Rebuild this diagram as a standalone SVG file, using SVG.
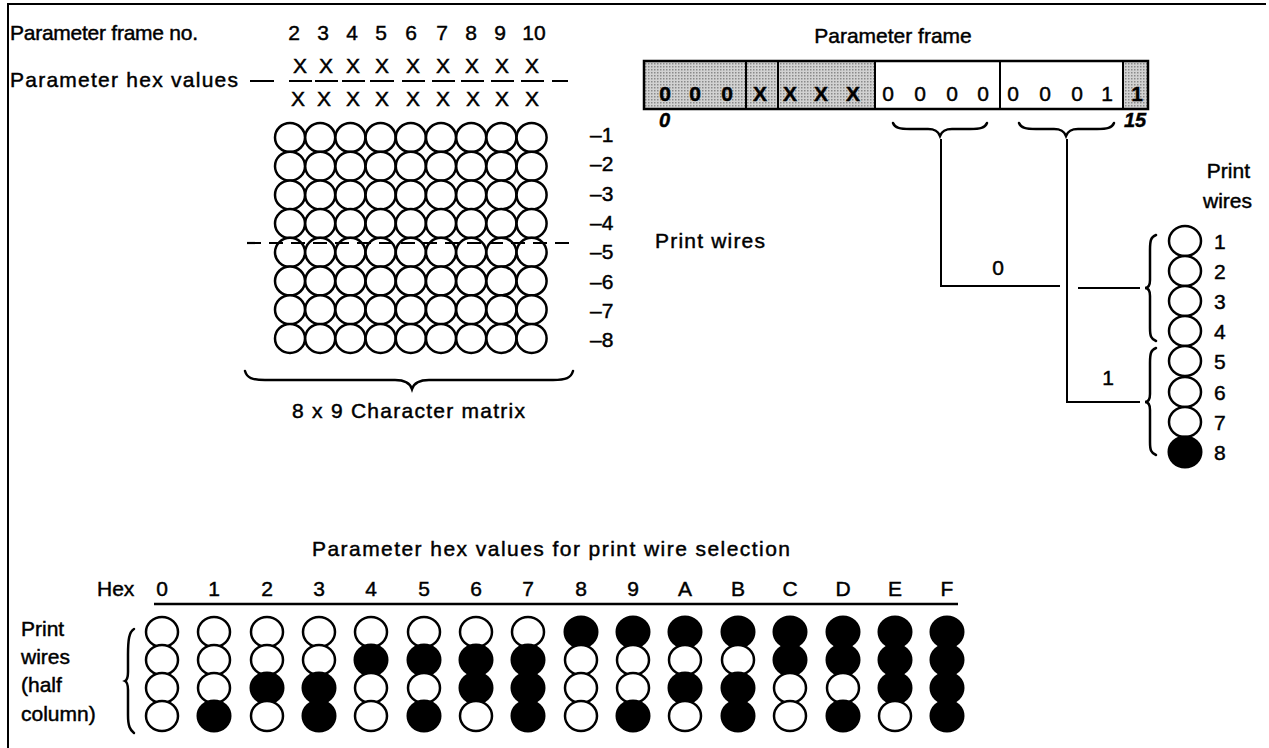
<svg xmlns="http://www.w3.org/2000/svg" width="1269" height="748" viewBox="0 0 1269 748">
<defs>
<pattern id="dots" width="3" height="3" patternUnits="userSpaceOnUse">
<rect width="3" height="3" fill="#d2d2d2"/>
<rect width="1.5" height="1.5" fill="#8a8a8a"/>
</pattern>
<ellipse id="mc" rx="15" ry="14.5" fill="#fff" stroke="#000" stroke-width="2.5"/>
<ellipse id="oc" rx="16" ry="15" fill="#fff" stroke="#000" stroke-width="2.5"/>
<ellipse id="fc" rx="16.5" ry="15.5" fill="#000" stroke="#000" stroke-width="2"/>
<g id="mrow">
<use href="#mc" x="290" y="0"/><use href="#mc" x="320.2" y="0"/><use href="#mc" x="350.4" y="0"/><use href="#mc" x="380.6" y="0"/><use href="#mc" x="410.8" y="0"/><use href="#mc" x="441" y="0"/><use href="#mc" x="471.2" y="0"/><use href="#mc" x="501.4" y="0"/><use href="#mc" x="531.6" y="0"/>
</g>
</defs>
<style>
text{font-family:"Liberation Sans",Arial,Helvetica,sans-serif;font-size:21px;fill:#000;stroke:#000;stroke-width:0.45}
.m{text-anchor:middle}
.e{text-anchor:end}
.b{font-weight:bold}
.it{font-style:italic;font-weight:bold;font-size:20px}
.ln{fill:none;stroke:#000;stroke-width:2}
.br{fill:none;stroke:#000;stroke-width:2.5;stroke-linecap:round}
</style>
<rect width="1269" height="748" fill="#fff"/>
<path class="ln" d="M8,748 V4 H1266"/>

<g id="frame-numbers">
<text x="10" y="40" textLength="188" lengthAdjust="spacing">Parameter frame no.</text>
<text class="m" x="294" y="40">2</text><text class="m" x="323" y="40">3</text><text class="m" x="352" y="40">4</text><text class="m" x="381" y="40">5</text><text class="m" x="411" y="40">6</text><text class="m" x="442" y="40">7</text><text class="m" x="471" y="40">8</text><text class="m" x="500" y="40">9</text><text class="m" x="534" y="40">10</text>
</g>

<g id="hex-values">
<text x="10" y="87" textLength="228" lengthAdjust="spacing">Parameter hex values</text>
<path class="ln" d="M250,81 H274 M289,81 H312 M315,81 H338 M342,81 H365 M370,81 H394 M402,81 H425 M432,81 H455 M461,81 H484 M491,81 H514 M521,81 H544 M552,81 H568"/>
<text class="m" x="300" y="73">X</text><text class="m" x="326" y="73">X</text><text class="m" x="353" y="73">X</text><text class="m" x="382" y="73">X</text><text class="m" x="413" y="73">X</text><text class="m" x="443" y="73">X</text><text class="m" x="472" y="73">X</text><text class="m" x="502" y="73">X</text><text class="m" x="532" y="73">X</text>
<text class="m" x="298" y="106">X</text><text class="m" x="324" y="106">X</text><text class="m" x="353" y="106">X</text><text class="m" x="382" y="106">X</text><text class="m" x="413" y="106">X</text><text class="m" x="443" y="106">X</text><text class="m" x="473" y="106">X</text><text class="m" x="502" y="106">X</text><text class="m" x="532" y="106">X</text>
</g>

<g id="character-matrix">
<use href="#mrow" y="137.5"/><use href="#mrow" y="166.2"/><use href="#mrow" y="194.9"/><use href="#mrow" y="223.6"/><use href="#mrow" y="252.3"/><use href="#mrow" y="281"/><use href="#mrow" y="309.7"/><use href="#mrow" y="338.4"/>
<line x1="247" y1="243" x2="577" y2="243" stroke="#000" stroke-width="2.2" stroke-dasharray="14 8"/>
<text x="590" y="142">–1</text><text x="590" y="171">–2</text><text x="590" y="201">–3</text><text x="590" y="230">–4</text><text x="590" y="259">–5</text><text x="590" y="289">–6</text><text x="590" y="318">–7</text><text x="590" y="347">–8</text>
<path class="br" d="M245,371 C247,378 252,380 265,380 L395,380 C405,380 410,383 412,389 C414,383 419,380 429,380 L553,380 C566,380 571,378 573,371"/>
<text x="292" y="418" textLength="233" lengthAdjust="spacing">8 x 9 Character matrix</text>
</g>

<g id="print-wires-label">
<text x="655" y="248" textLength="110" lengthAdjust="spacing">Print wires</text>
</g>

<g id="parameter-frame">
<text class="m" x="893" y="43">Parameter frame</text>
<rect x="644" y="61" width="231" height="48" fill="url(#dots)"/>
<rect x="1123" y="61" width="25" height="48" fill="url(#dots)"/>
<rect x="644" y="61" width="504" height="48" fill="none" stroke="#000" stroke-width="2.5"/>
<path class="ln" d="M746,61 V109 M778,61 V109 M875,61 V109 M1000,61 V109 M1123,61 V109"/>
<text class="m b" x="665" y="101">0</text><text class="m b" x="695" y="101">0</text><text class="m b" x="727" y="101">0</text>
<text class="m b" x="760" y="101">X</text><text class="m b" x="790" y="101">X</text><text class="m b" x="821" y="101">X</text><text class="m b" x="853" y="101">X</text>
<text class="m" x="888" y="101">0</text><text class="m" x="920" y="101">0</text><text class="m" x="952" y="101">0</text><text class="m" x="983" y="101">0</text>
<text class="m" x="1013" y="101">0</text><text class="m" x="1045" y="101">0</text><text class="m" x="1077" y="101">0</text><text class="m" x="1107" y="101">1</text>
<text class="m b" x="1137" y="101">1</text>
<text class="it" x="659" y="127">0</text>
<text class="it" x="1124" y="127">15</text>
<path class="br" d="M893,123 C895,128 900,129 910,129 L928,129 C935,129 938,131 940,136 C942,131 945,129 952,129 L970,129 C980,129 985,128 987,123"/>
<path class="br" d="M1019,123 C1021,128 1026,129 1036,129 L1054,129 C1061,129 1064,131 1066,136 C1068,131 1071,129 1078,129 L1097,129 C1107,129 1112,128 1114,123"/>
</g>

<g id="connectors">
<path class="ln" d="M941,139 V286 H1060"/>
<path class="ln" d="M1067,139 V402 H1140"/>
<path class="ln" d="M1078,288 H1140"/>
<text class="m" x="998" y="275">0</text>
<text class="m" x="1108" y="385">1</text>
</g>

<g id="print-wires-column">
<text class="e" x="1250" y="178">Print</text>
<text class="e" x="1252" y="208">wires</text>
<path class="br" d="M1156,235 C1151,237 1150,240 1150,250 L1150,280 C1150,285 1148,288 1145,288 C1148,288 1150,291 1150,296 L1150,328 C1150,336 1151,339 1156,341"/>
<path class="br" d="M1156,348 C1151,350 1150,353 1150,363 L1150,394 C1150,399 1148,402 1145,402 C1148,402 1150,405 1150,410 L1150,442 C1150,450 1151,453 1156,455"/>
<use href="#oc" x="1185" y="241"/><use href="#oc" x="1185" y="271"/><use href="#oc" x="1185" y="301"/><use href="#oc" x="1185" y="331"/><use href="#oc" x="1185" y="361"/><use href="#oc" x="1185" y="392"/><use href="#oc" x="1185" y="422"/><use href="#fc" x="1185" y="452"/>
<text x="1214" y="249">1</text><text x="1214" y="279">2</text><text x="1214" y="309">3</text><text x="1214" y="339">4</text><text x="1214" y="369">5</text><text x="1214" y="400">6</text><text x="1214" y="430">7</text><text x="1214" y="460">8</text>
</g>

<g id="hex-table">
<text x="312" y="556" textLength="478" lengthAdjust="spacing">Parameter hex values for print wire selection</text>
<text x="97" y="596">Hex</text>
<text class="m" x="162" y="596">0</text><text class="m" x="214" y="596">1</text><text class="m" x="267" y="596">2</text><text class="m" x="319" y="596">3</text><text class="m" x="371" y="596">4</text><text class="m" x="424" y="596">5</text><text class="m" x="476" y="596">6</text><text class="m" x="528" y="596">7</text><text class="m" x="581" y="596">8</text><text class="m" x="633" y="596">9</text><text class="m" x="685" y="596">A</text><text class="m" x="738" y="596">B</text><text class="m" x="790" y="596">C</text><text class="m" x="843" y="596">D</text><text class="m" x="895" y="596">E</text><text class="m" x="947" y="596">F</text>
<line x1="154" y1="604" x2="958" y2="604" stroke="#000" stroke-width="2.5"/>
<text x="21" y="636">Print</text>
<text x="21" y="664">wires</text>
<text x="21" y="692">(half</text>
<text x="21" y="721">column)</text>
<path class="br" d="M134,629 C129,632 128,640 128,655 L128,672 C128,677 127,680 125,681 C127,682 128,685 128,690 L128,715 C128,726 130,730 134,733"/>
<use href="#oc" x="162" y="632"/><use href="#oc" x="162" y="660"/><use href="#oc" x="162" y="688"/><use href="#oc" x="162" y="716"/>
<use href="#oc" x="214" y="632"/><use href="#oc" x="214" y="660"/><use href="#oc" x="214" y="688"/><use href="#fc" x="214" y="716"/>
<use href="#oc" x="267" y="632"/><use href="#oc" x="267" y="660"/><use href="#fc" x="267" y="688"/><use href="#oc" x="267" y="716"/>
<use href="#oc" x="319" y="632"/><use href="#oc" x="319" y="660"/><use href="#fc" x="319" y="688"/><use href="#fc" x="319" y="716"/>
<use href="#oc" x="371" y="632"/><use href="#fc" x="371" y="660"/><use href="#oc" x="371" y="688"/><use href="#oc" x="371" y="716"/>
<use href="#oc" x="424" y="632"/><use href="#fc" x="424" y="660"/><use href="#oc" x="424" y="688"/><use href="#fc" x="424" y="716"/>
<use href="#oc" x="476" y="632"/><use href="#fc" x="476" y="660"/><use href="#fc" x="476" y="688"/><use href="#oc" x="476" y="716"/>
<use href="#oc" x="528" y="632"/><use href="#fc" x="528" y="660"/><use href="#fc" x="528" y="688"/><use href="#fc" x="528" y="716"/>
<use href="#fc" x="581" y="632"/><use href="#oc" x="581" y="660"/><use href="#oc" x="581" y="688"/><use href="#oc" x="581" y="716"/>
<use href="#fc" x="633" y="632"/><use href="#oc" x="633" y="660"/><use href="#oc" x="633" y="688"/><use href="#fc" x="633" y="716"/>
<use href="#fc" x="685" y="632"/><use href="#oc" x="685" y="660"/><use href="#fc" x="685" y="688"/><use href="#oc" x="685" y="716"/>
<use href="#fc" x="738" y="632"/><use href="#oc" x="738" y="660"/><use href="#fc" x="738" y="688"/><use href="#fc" x="738" y="716"/>
<use href="#fc" x="790" y="632"/><use href="#fc" x="790" y="660"/><use href="#oc" x="790" y="688"/><use href="#oc" x="790" y="716"/>
<use href="#fc" x="843" y="632"/><use href="#fc" x="843" y="660"/><use href="#oc" x="843" y="688"/><use href="#fc" x="843" y="716"/>
<use href="#fc" x="895" y="632"/><use href="#fc" x="895" y="660"/><use href="#fc" x="895" y="688"/><use href="#oc" x="895" y="716"/>
<use href="#fc" x="947" y="632"/><use href="#fc" x="947" y="660"/><use href="#fc" x="947" y="688"/><use href="#fc" x="947" y="716"/>
</g>
</svg>
